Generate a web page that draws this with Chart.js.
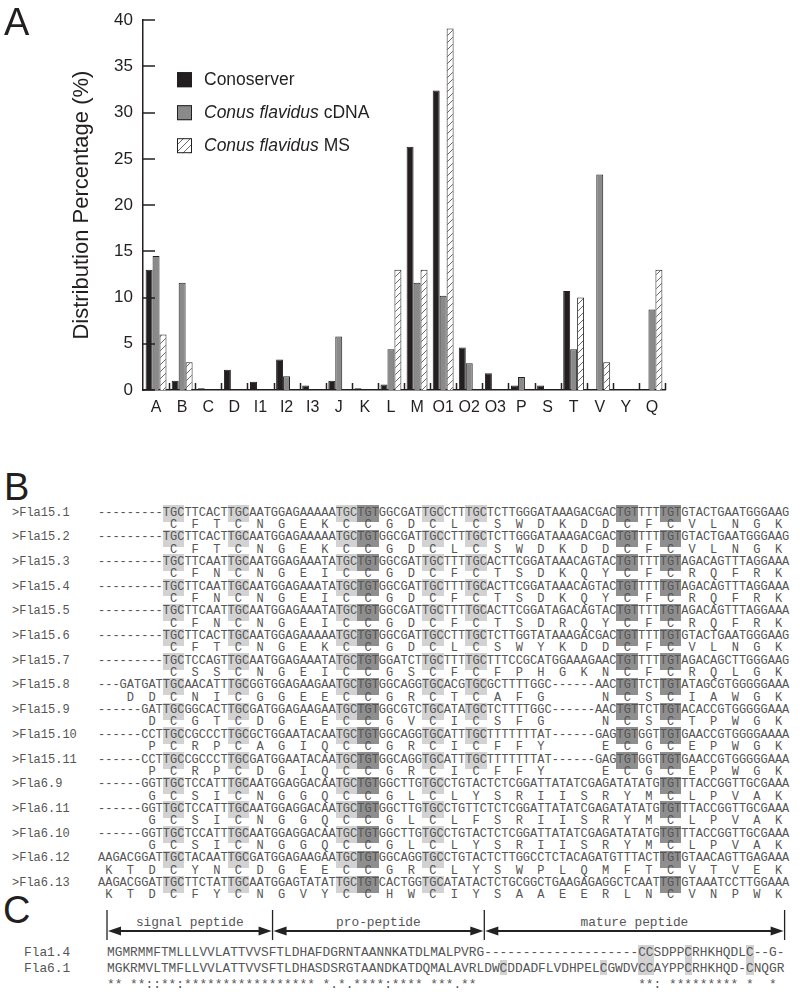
<!DOCTYPE html>
<html>
<head>
<meta charset="utf-8">
<script src="https://cdn.jsdelivr.net/npm/chart.js@4.4.0/dist/chart.umd.min.js"></script>
<style>
  html, body { margin: 0; padding: 0; background: #fff; }
  body { width: 800px; height: 997px; position: relative; overflow: hidden; font-family: "Liberation Sans", Arial, sans-serif; }
  #chartBox { position: absolute; left: 0; top: 0; width: 800px; height: 430px; }
  .panel { position: absolute; font-size: 38px; line-height: 38px; color: #231f20; }
  .mono { position: absolute; font-family: "Liberation Mono", "Courier New", monospace; color: #555; white-space: pre; }
  .box { position: absolute; }
</style>
</head>
<body>
<div id="chartBox"><canvas id="chart" width="800" height="430"></canvas></div>
<div class="panel" style="left:4px;top:3px">A</div>
<div class="panel" style="left:4px;top:468px">B</div>
<div class="panel" style="left:3px;top:891px">C</div>
<div id="panelB"></div>
<div id="panelC"></div>
<svg id="arrows" width="800" height="997" style="position:absolute;left:0;top:0;pointer-events:none"></svg>

<script>
// ---------- Panel A data ----------
const categories = ['A', 'B', 'C', 'D', 'I1', 'I2', 'I3', 'J', 'K', 'L', 'M', 'O1', 'O2', 'O3', 'P', 'S', 'T', 'V', 'Y', 'Q'];
const conoserver = [13.0, 1.0, 0.2, 2.2, 0.9, 3.3, 0.5, 1.0, 0.2, 0.6, 26.3, 32.4, 4.6, 1.8, 0.5, 0.5, 10.7, 0.1, 0.05, 0];
const flavidusCDNA = [14.5, 11.6, 0, 0, 0, 1.5, 0, 5.8, 0, 4.4, 11.6, 10.2, 2.9, 0, 1.4, 0, 4.4, 23.3, 0, 8.7];
const flavidusMS = [6.0, 3.0, 0, 0, 0, 0, 0, 0, 0, 13.0, 13.0, 39.1, 0, 0, 0, 0, 10.0, 3.0, 0, 13.0];
const seriesLabels = ['Conoserver', 'Conus flavidus cDNA', 'Conus flavidus MS'];
const legendItalic = ['', 'Conus flavidus', 'Conus flavidus'];
const yTitle = 'Distribution Percentage (%)';

// ---------- Panel B data ----------
const seqNames = ['>Fla15.1', '>Fla15.2', '>Fla15.3', '>Fla15.4', '>Fla15.5', '>Fla15.6', '>Fla15.7', '>Fla15.8',
  '>Fla15.9', '>Fla15.10', '>Fla15.11', '>Fla6.9', '>Fla6.11', '>Fla6.10', '>Fla6.12', '>Fla6.13'];
const dnaCodons = [
  '--- --- --- TGC TTC ACT TGC AAT GGA GAA AAA TGC TGT GGC GAT TGC CTT TGC TCT TGG GAT AAA GAC GAC TGT TTT TGT GTA CTG AAT GGG AAG',
  '--- --- --- TGC TTC ACT TGC AAT GGA GAA AAA TGC TGT GGC GAT TGC CTT TGC TCT TGG GAT AAA GAC GAC TGT TTT TGT GTA CTG AAT GGG AAG',
  '--- --- --- TGC TTC AAT TGC AAT GGA GAA ATA TGC TGT GGC GAT TGC TTT TGC ACT TCG GAT AAA CAG TAC TGT TTT TGT AGA CAG TTT AGG AAA',
  '--- --- --- TGC TTC AAT TGC AAT GGA GAA ATA TGC TGT GGC GAT TGC TTT TGC ACT TCG GAT AAA CAG TAC TGT TTT TGT AGA CAG TTT AGG AAA',
  '--- --- --- TGC TTC AAT TGC AAT GGA GAA ATA TGC TGT GGC GAT TGC TTT TGC ACT TCG GAT AGA CAG TAC TGT TTT TGT AGA CAG TTT AGG AAA',
  '--- --- --- TGC TTC ACT TGC AAT GGA GAA AAA TGC TGT GGC GAT TGC CTT TGC TCT TGG TAT AAA GAC GAC TGT TTT TGT GTA CTG AAT GGG AAG',
  '--- --- --- TGC TCC AGT TGC AAT GGA GAA ATA TGC TGT GGA TCT TGC TTT TGC TTT CCG CAT GGA AAG AAC TGT TTT TGT AGA CAG CTT GGG AAG',
  '--- GAT GAT TGC AAC ATT TGC GGT GGA GAA GAA TGC TGT GGC AGG TGC ACG TGC GCT TTT GGC --- --- AAC TGT TCT TGT ATA GCG TGG GGG AAA',
  '--- --- GAT TGC GGC ACT TGC GAT GGA GAA GAA TGC TGT GGC GTC TGC ATA TGC TCT TTT GGC --- --- AAC TGT TCT TGT ACA CCG TGG GGG AAA',
  '--- --- CCT TGC CGC CCT TGC GCT GGA ATA CAA TGC TGT GGC AGG TGC ATT TGC TTT TTT TAT --- --- GAG TGT GGT TGT GAA CCG TGG GGA AAA',
  '--- --- CCT TGC CGC CCT TGC GAT GGA ATA CAA TGC TGT GGC AGG TGC ATT TGC TTT TTT TAT --- --- GAG TGT GGT TGT GAA CCG TGG GGG AAA',
  '--- --- GGT TGC TCC ATT TGC AAT GGA GGA CAA TGC TGT GGC TTG TGC CTG TAC TCT CGG ATT ATA TCG AGA TAT ATG TGT TTA CCG GTT GCG AAA',
  '--- --- GGT TGC TCC ATT TGC AAT GGA GGA CAA TGC TGT GGC TTG TGC CTG TTC TCT CGG ATT ATA TCG AGA TAT ATG TGT TTA CCG GTT GCG AAA',
  '--- --- GGT TGC TCC ATT TGC AAT GGA GGA CAA TGC TGT GGC TTG TGC CTG TAC TCT CGG ATT ATA TCG AGA TAT ATG TGT TTA CCG GTT GCG AAA',
  'AAG ACG GAT TGC TAC AAT TGC GAT GGA GAA GAA TGC TGT GGC AGG TGC CTG TAC TCT TGG CCT CTA CAG ATG TTT ACT TGT GTA ACA GTT GAG AAA',
  'AAG ACG GAT TGC TTC TAT TGC AAT GGA GTA TAT TGC TGT CAC TGG TGC ATA TAC TCT GCG GCT GAA GAG AGG CTC AAT TGT GTA AAT CCT TGG AAA'
];
const aaSeqs = [
  'CFTCNGEKCCGDCLCSWDKDDCFCVLNGK',
  'CFTCNGEKCCGDCLCSWDKDDCFCVLNGK',
  'CFNCNGEICCGDCFCTSDKQYCFCRQFRK',
  'CFNCNGEICCGDCFCTSDKQYCFCRQFRK',
  'CFNCNGEICCGDCFCTSDRQYCFCRQFRK',
  'CFTCNGEKCCGDCLCSWYKDDCFCVLNGK',
  'CSSCNGEICCGSCFCFPHGKNCFCRQLGK',
  'DDCNICGGEECCGRCTCAFGNCSCIAWGK',
  'DCGTCDGEECCGVCICSFGNCSCTPWGK',
  'PCRPCAGIQCCGRCICFFYECGCEPWGK',
  'PCRPCDGIQCCGRCICFFYECGCEPWGK',
  'GCSICNGGQCCGLCLYSRIISRYMCLPVAK',
  'GCSICNGGQCCGLCLFSRIISRYMCLPVAK',
  'GCSICNGGQCCGLCLYSRIISRYMCLPVAK',
  'KTDCYNCDGEECCGRCLYSWPLQMFTCVTVEK',
  'KTDCFYCNGVYCCHWCIYSAAEERLNCVNPWK'
];

// ---------- Panel C data ----------
const protNames = ['Fla1.4', 'Fla6.1'];
const protSeqs = [
  'MGMRMMFTMLLLVVLATTVVSFTLDHAFDGRNTAANNKATDLMALPVRG--------------------CCSDPPCRHKHQDLC--G-',
  'MGKRMVLTMFLLVVLATTVVSFTLDHASDSRGTAANDKATDQMALAVRLDWCDDADFLVDHPELCGWDVCCAYPPCRHKHQD-CNQGR'
];
const consensus = '** **::**:***************** *.*.****:**** ***.** ' + ' '.repeat(20) + '**: ********* *  * ';
const regionNames = ['signal peptide', 'pro-peptide', 'mature peptide'];
const regionBounds = [0, 21.5, 49, 88];

// ---------- Chart ----------
const INK = '#231f20';

function makeHatch() {
  const c = document.createElement('canvas');
  c.width = 7; c.height = 7;
  const g = c.getContext('2d');
  g.fillStyle = '#fff';
  g.fillRect(0, 0, 7, 7);
  g.strokeStyle = '#444';
  g.lineWidth = 0.8;
  g.beginPath(); g.moveTo(0, 7); g.lineTo(7, 0); g.stroke();
  g.beginPath(); g.moveTo(-1, 1); g.lineTo(1, -1); g.stroke();
  g.beginPath(); g.moveTo(6, 8); g.lineTo(8, 6); g.stroke();
  return g.createPattern(c, 'repeat');
}

// inward ticks on both axes
const innerTicks = {
  id: 'innerTicks',
  afterDatasetsDraw(chart) {
    const ctx = chart.ctx, xs = chart.scales.x, ys = chart.scales.y, a = chart.chartArea;
    ctx.save();
    ctx.strokeStyle = INK;
    ctx.lineWidth = 1.5;
    ys.ticks.forEach(t => {
      const y = Math.round(ys.getPixelForValue(t.value));
      ctx.beginPath(); ctx.moveTo(a.left, y); ctx.lineTo(a.left + 12, y); ctx.stroke();
    });
    const half = (xs.getPixelForValue(1) - xs.getPixelForValue(0)) / 2;
    categories.forEach((c, i) => {
      const x = Math.round(xs.getPixelForValue(i) + half) + 0.5;
      ctx.beginPath(); ctx.moveTo(x, a.bottom); ctx.lineTo(x, a.bottom - 7); ctx.stroke();
    });
    ctx.restore();
  }
};

// legend with the species name in italics
const sideLegend = {
  id: 'sideLegend',
  afterDraw(chart) {
    const ctx = chart.ctx, a = chart.chartArea;
    chart.data.datasets.forEach((ds, i) => {
      const x = a.left + 34, y = a.top + 52 + i * 33;
      ctx.save();
      ctx.fillStyle = ds.backgroundColor;
      ctx.fillRect(x, y, 15, 15);
      ctx.strokeStyle = INK;
      ctx.lineWidth = 1;
      ctx.strokeRect(x + 0.5, y + 0.5, 14, 14);
      ctx.fillStyle = INK;
      ctx.textBaseline = 'middle';
      let tx = x + 27;
      let rest = ds.label;
      if (legendItalic[i]) {
        ctx.font = 'italic 17.5px "Liberation Sans"';
        ctx.fillText(legendItalic[i], tx, y + 8);
        tx += ctx.measureText(legendItalic[i]).width;
        rest = ds.label.slice(legendItalic[i].length);
      }
      ctx.font = '17.5px "Liberation Sans"';
      ctx.fillText(rest, tx, y + 8);
      ctx.restore();
    });
  }
};

const ctx = document.getElementById('chart').getContext('2d');
new Chart(ctx, {
  type: 'bar',
  data: {
    labels: categories,
    datasets: [
      { label: seriesLabels[0], data: conoserver, backgroundColor: INK, borderColor: INK, borderWidth: 1 },
      { label: seriesLabels[1], data: flavidusCDNA, backgroundColor: '#8a8a8a', borderColor: INK, borderWidth: 1 },
      { label: seriesLabels[2], data: flavidusMS, backgroundColor: makeHatch(), borderColor: INK, borderWidth: 1 }
    ]
  },
  options: {
    responsive: false,
    animation: false,
    layout: { padding: { left: 0, top: 18, right: 135, bottom: 0 } },
    datasets: { bar: { categoryPercentage: 0.8, barPercentage: 1.0 } },
    plugins: { legend: { display: false }, tooltip: { enabled: false } },
    scales: {
      x: {
        grid: { display: false, drawTicks: false },
        border: { display: true, color: INK, width: 1.5 },
        ticks: { color: INK, font: { family: 'Liberation Sans', size: 16 }, padding: 8, autoSkip: false, maxRotation: 0 },
        afterFit(s) { s.height = 40; }
      },
      y: {
        min: 0,
        max: 40,
        grid: { display: false, drawTicks: false },
        border: { display: true, color: INK, width: 1.5 },
        ticks: { stepSize: 5, color: INK, font: { family: 'Liberation Sans', size: 17 }, padding: 10 },
        title: { display: true, text: yTitle, color: INK, font: { family: 'Liberation Sans', size: 22 }, padding: { top: 69, bottom: 0 } },
        afterFit(s) { s.width = 143; }
      }
    }
  },
  plugins: [innerTicks, sideLegend]
});

// ---------- Panels B and C (text) ----------
function addText(parent, text, x, yc, size, lh) {
  const d = document.createElement('div');
  d.className = 'mono';
  d.style.left = x + 'px';
  d.style.top = (yc - lh / 2 + 0.5) + 'px';
  d.style.fontSize = size + 'px';
  d.style.lineHeight = lh + 'px';
  d.textContent = text;
  parent.appendChild(d);
}
function addBox(parent, x, y, w, h, color) {
  const d = document.createElement('div');
  d.className = 'box';
  d.style.cssText += `left:${x}px;top:${y}px;width:${w}px;height:${h}px;background:${color}`;
  parent.appendChild(d);
}

const LIGHT = '#d2d2d2', DARK = '#8e8e8e';
const B_LEFT = 98, B_CW = 7.2, B_FIRST = 512, B_ROW = 24.7, B_LINE = 12.35;
const panelB = document.getElementById('panelB');
seqNames.forEach((name, r) => {
  const yc = B_FIRST + r * B_ROW;
  const codons = dnaCodons[r].split(' ');
  codons.forEach((cd, ci) => {
    if (cd === 'TGC' || cd === 'TGT') {
      addBox(panelB, B_LEFT + ci * 3 * B_CW, yc - 7, 3 * B_CW, 17, cd === 'TGT' ? DARK : LIGHT);
    }
  });
});
seqNames.forEach((name, r) => {
  const yc = B_FIRST + r * B_ROW;
  const codons = dnaCodons[r].split(' ');
  let k = 0;
  const aaLine = codons.map(cd => cd === '---' ? '   ' : ' ' + aaSeqs[r][k++] + ' ').join('');
  addText(panelB, name, 12, yc, 12, 14);
  addText(panelB, codons.join(''), B_LEFT, yc, 12, 14);
  addText(panelB, aaLine, B_LEFT, yc + B_LINE, 12, 14);
});

const C_LEFT = 107, C_CW = 7.7, C_FONT = 12.83;
const C_ROWS = [952, 967.5, 982];
const panelC = document.getElementById('panelC');
protSeqs.forEach((seq, r) => {
  for (let i = 0; i < seq.length; i++) {
    if (seq[i] === 'C' && i >= regionBounds[2]) addBox(panelC, C_LEFT + i * C_CW, C_ROWS[r] - 7.5, C_CW, 15, LIGHT);
  }
});
protSeqs.forEach((seq, r) => {
  addText(panelC, protNames[r], 24, C_ROWS[r], C_FONT, 15);
  addText(panelC, seq, C_LEFT, C_ROWS[r], C_FONT, 15);
});
addText(panelC, consensus, C_LEFT, C_ROWS[2] + 2, C_FONT, 15);

// region header: labels, bars and double arrows
const svg = document.getElementById('arrows');
const NS = 'http://www.w3.org/2000/svg';
function svgEl(tag, attrs) {
  const e = document.createElementNS(NS, tag);
  for (const k in attrs) e.setAttribute(k, attrs[k]);
  svg.appendChild(e);
  return e;
}
const bx = regionBounds.map(b => C_LEFT + b * C_CW);
bx.forEach(x => svgEl('line', { x1: x, y1: 910, x2: x, y2: 940, stroke: '#222', 'stroke-width': 1.3 }));
regionNames.forEach((name, i) => {
  const x0 = bx[i] + 1, x1 = bx[i + 1] - 1, y = 931;
  svgEl('line', { x1: x0 + 10, y1: y, x2: x1 - 10, y2: y, stroke: '#222', 'stroke-width': 2 });
  svgEl('polygon', { points: `${x0},${y} ${x0 + 13},${y - 4.5} ${x0 + 13},${y + 4.5}`, fill: '#222' });
  svgEl('polygon', { points: `${x1},${y} ${x1 - 13},${y - 4.5} ${x1 - 13},${y + 4.5}`, fill: '#222' });
  addText(panelC, name, (bx[i] + bx[i + 1]) / 2 - name.length * C_CW / 2, 922, C_FONT, 15);
});
</script>
</body>
</html>
